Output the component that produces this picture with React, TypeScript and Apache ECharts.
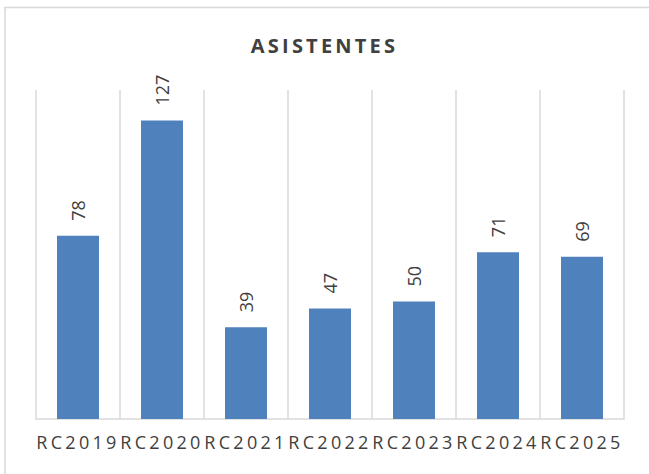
import React, { useEffect, useRef } from "react";
import * as echarts from "echarts";

const categories = ["RC2019", "RC2020", "RC2021", "RC2022", "RC2023", "RC2024", "RC2025"];
const values = [78, 127, 39, 47, 50, 71, 69];
const titleText = "ASISTENTES";

export default function App() {
  const ref = useRef<HTMLDivElement>(null);
  useEffect(() => {
    const el = ref.current!;
    const chart = echarts.init(el, null, { renderer: "svg" });
    chart.setOption({
      animation: false,
      backgroundColor: "#ffffff",
      title: {
        text: titleText,
        left: "center",
        top: 30,
        textStyle: {
          fontFamily: "'Open Sans', sans-serif",
          fontSize: 20,
          fontWeight: "bold",
          color: "#404040",
        },
      },
      graphic: [
        {
          type: "rect",
          shape: { x: 5, y: 7.5, width: 700, height: 600 },
          style: { fill: "none", stroke: "#d9d9d9", lineWidth: 1.5 },
          silent: true,
        },
      ],
      grid: { left: 36, right: 25, top: 90, bottom: 55 },
      xAxis: {
        type: "category",
        data: categories,
        boundaryGap: true,
        axisLine: { show: true, lineStyle: { color: "#d9d9d9", width: 1.5 } },
        axisTick: { show: false },
        splitLine: { show: true, lineStyle: { color: "#d9d9d9", width: 1.5 } },
        axisLabel: {
          interval: 0,
          margin: 14,
          fontFamily: "'Open Sans', sans-serif",
          fontSize: 18,
          color: "#404040",
        },
      },
      yAxis: {
        type: "value",
        min: 0,
        max: 140,
        show: false,
        splitLine: { show: false },
      },
      series: [
        {
          type: "bar",
          data: values,
          barWidth: "50%",
          itemStyle: { color: "#4F81BD" },
          label: {
            show: true,
            position: "top",
            rotate: 90,
            align: "left",
            verticalAlign: "middle",
            distance: 15,
            fontFamily: "'Open Sans', sans-serif",
            fontSize: 18,
            color: "#404040",
          },
        },
      ],
    });
    const texts = el.querySelectorAll("text");
    texts.forEach((t) => {
      const c = (t.textContent || "").trim();
      if (categories.indexOf(c) >= 0) {
        (t as SVGTextElement).style.letterSpacing = "3.3px";
      } else if (c === titleText) {
        (t as SVGTextElement).style.letterSpacing = "3.2px";
      }
    });
    return () => chart.dispose();
  }, []);
  return (
    <div
      ref={ref}
      style={{ position: "fixed", left: 0, top: 0, width: 649, height: 474 }}
    />
  );
}
